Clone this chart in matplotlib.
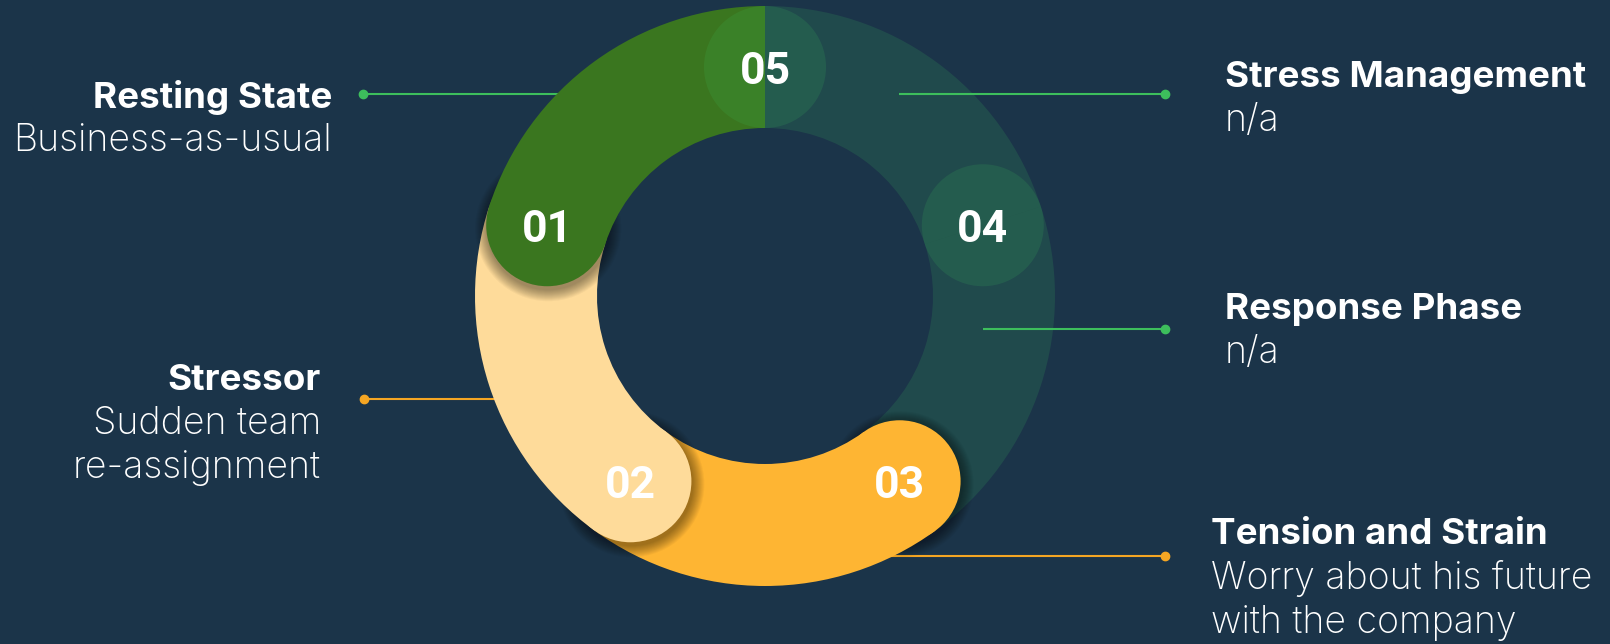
import matplotlib
matplotlib.use("Agg")
import matplotlib.pyplot as plt
from matplotlib.patches import Wedge, Circle
import numpy as np

# ---- data ----
steps = ["01", "02", "03", "04", "05"]
titles = ["Resting State", "Stressor", "Tension and Strain", "Response Phase", "Stress Management"]
subtitles = ["Business-as-usual", "Sudden team\nre-assignment",
             "Worry about his future\nwith the company", "n/a", "n/a"]
values = [1, 1, 1, 1, 1]

# ---- style ----
W, H = 1610, 644
BG = "#1b3449"
slice_colors = ["#3a761f", "#fedb9a", "#feb533", "#3dbe5c", "#3dbe5c"]
slice_alpha = [1, 1, 1, 0.16, 0.16]
line_colors = ["#3dbe5c", "#f5a623", "#f5a623", "#3dbe5c", "#3dbe5c"]
CX, CY = 765, 296
R_OUT, R_IN = 290, 168
WIDTH = R_OUT - R_IN
RM = (R_OUT + R_IN) / 2

fig = plt.figure(figsize=(W / 100, H / 100), dpi=100, facecolor=BG)
ax = fig.add_axes([0, 0, 1, 1])
ax.set_xlim(0, W)
ax.set_ylim(H, 0)
ax.set_facecolor(BG)
ax.axis("off")

total = sum(values)
ends, starts = [], []
acc = 0
for v in values:
    end = 360 - 360 * acc / total
    acc += v
    start = 360 - 360 * acc / total
    starts.append(start)
    ends.append(end)

def pos(phi, r):
    th = np.radians(phi - 90)
    return CX + r * np.cos(th), CY + r * np.sin(th)

# draw order: 04, 03, 02, 01, 05
order = [3, 2, 1, 0, 4]
z = 2
for i in order:
    cxp, cyp = pos(starts[i], RM)
    if slice_alpha[i] == 1:
        for k in range(12):
            ax.add_patch(Circle((cxp + 1, cyp + 3), WIDTH / 2 + 12 - k,
                                color="black", alpha=0.035, lw=0, zorder=z))
    z += 1
    ax.add_patch(Wedge((CX, CY), R_OUT, starts[i] - 90, ends[i] - 90, width=WIDTH,
                       facecolor=slice_colors[i], alpha=slice_alpha[i], lw=0, zorder=z))
    z += 1
    ax.add_patch(Circle((cxp, cyp), WIDTH / 2, facecolor=slice_colors[i],
                        alpha=slice_alpha[i], lw=0, zorder=z))
    z += 1

for i in range(len(steps)):
    cxp, cyp = pos(starts[i], RM)
    ax.text(cxp, cyp, steps[i], color="white", fontsize=32, fontweight="bold",
            family="Roboto", ha="center", va="center_baseline", zorder=50)

# ---- annotations (pixel positions) ----
dot_pts = [(363, 94), (364, 399), (1165, 556), (1165, 329), (1165, 94)]
line_ends = [600, 560, 880, 983, 899]
line_z = [1, 1, 1, 40, 40]
title_pos = [(332, 97, "right"), (321, 380, "right"), (1211, 535, "left"),
             (1225, 309, "left"), (1225, 77, "left")]
LINE_H = 44.5
TXT_FAMILY = ["Inter", "DejaVu Sans"]
for i in range(len(steps)):
    dx, dy = dot_pts[i]
    ax.plot([dx, line_ends[i]], [dy, dy], color=line_colors[i], lw=1.5,
            zorder=line_z[i], solid_capstyle="butt")
    ax.plot([dx], [dy], "o", color=line_colors[i], ms=6, zorder=41)
    tx, ty, ha = title_pos[i]
    ax.text(tx, ty, titles[i], color="white", fontsize=26.5, fontweight="bold",
            family=TXT_FAMILY, ha=ha, va="center", zorder=50)
    for j, s in enumerate(subtitles[i].split("\n")):
        ax.text(tx, ty + LINE_H * (j + 1) - 1, s, color="white", fontsize=27,
                fontweight="light", family=TXT_FAMILY, ha=ha, va="center", zorder=50)

fig.savefig("out.png", dpi=100, facecolor=BG)
